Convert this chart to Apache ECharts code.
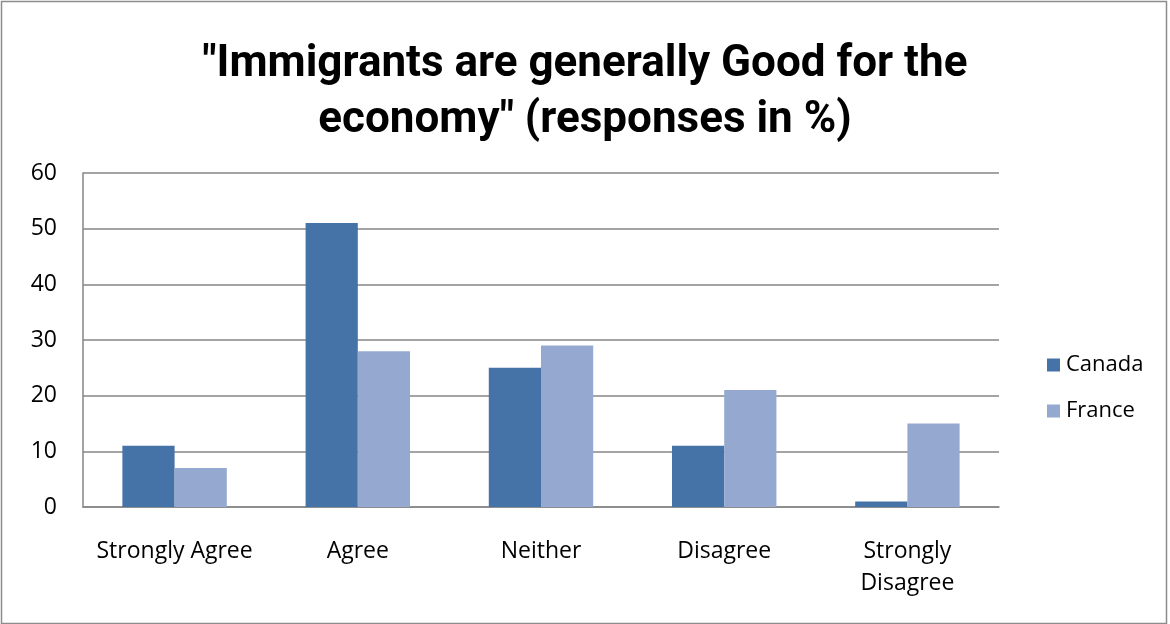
<!DOCTYPE html>
<html>
<head>
<meta charset="utf-8">
<script src="https://cdn.jsdelivr.net/npm/echarts@6/dist/echarts.min.js"></script>
<style>
html,body{margin:0;padding:0;background:#fff;}
#chart{width:1170px;height:624px;}
</style>
</head>
<body>
<div id="chart"></div>
<script>
const titleText = '"Immigrants are generally Good for the\neconomy" (responses in %)';
const categories = ['Strongly Agree', 'Agree', 'Neither', 'Disagree', 'Strongly\nDisagree'];
const canada = [11, 51, 25, 11, 1];
const france = [7, 28, 29, 21, 15];
const yTicks = { min: 0, max: 60, interval: 10 };

const labelFont = '"Open Sans", "Noto Sans", sans-serif';
const chart = echarts.init(document.getElementById('chart'), null, { renderer: 'canvas' });
chart.setOption({
  backgroundColor: '#ffffff',
  animation: false,
  graphic: [{
    type: 'rect',
    shape: { x: 1.5, y: 1.5, width: 1165, height: 622 },
    style: { fill: 'none', stroke: '#8c8c8c', lineWidth: 1.5 },
    silent: true
  }],
  title: {
    text: titleText,
    left: 'center',
    top: 32,
    textStyle: {
      fontFamily: 'Roboto, "Open Sans", sans-serif',
      fontWeight: 'bold',
      fontSize: 44,
      lineHeight: 56,
      color: '#000000',
      align: 'center'
    }
  },
  legend: {
    orient: 'vertical',
    left: 1042,
    top: 349,
    itemWidth: 13,
    itemHeight: 13,
    itemGap: 24,
    icon: 'rect',
    textStyle: { fontFamily: labelFont, fontSize: 22, color: '#000000', padding: [0, 0, 0, 1] },
    data: ['Canada', 'France']
  },
  grid: { left: 83, right: 171, top: 173, bottom: 117, containLabel: false },
  xAxis: {
    type: 'category',
    data: categories,
    axisLine: { show: true, lineStyle: { color: '#868686', width: 1.5 } },
    axisTick: { show: false },
    axisLabel: {
      interval: 0,
      margin: 28,
      fontFamily: labelFont,
      fontSize: 23,
      lineHeight: 32,
      color: '#000000'
    }
  },
  yAxis: {
    type: 'value',
    min: yTicks.min,
    max: yTicks.max,
    interval: yTicks.interval,
    axisLine: { show: true, lineStyle: { color: '#868686', width: 1.5 } },
    axisTick: { show: false },
    splitLine: { show: true, lineStyle: { color: '#868686', width: 1.5 } },
    axisLabel: {
      margin: 26,
      fontFamily: labelFont,
      fontSize: 23,
      color: '#000000'
    }
  },
  series: [
    {
      name: 'Canada', type: 'bar', data: canada,
      itemStyle: { color: '#4572A7' },
      barGap: '0%', barCategoryGap: '43%'
    },
    {
      name: 'France', type: 'bar', data: france,
      itemStyle: { color: '#95A9D0' },
      barGap: '0%', barCategoryGap: '43%'
    }
  ]
});
</script>
</body>
</html>
